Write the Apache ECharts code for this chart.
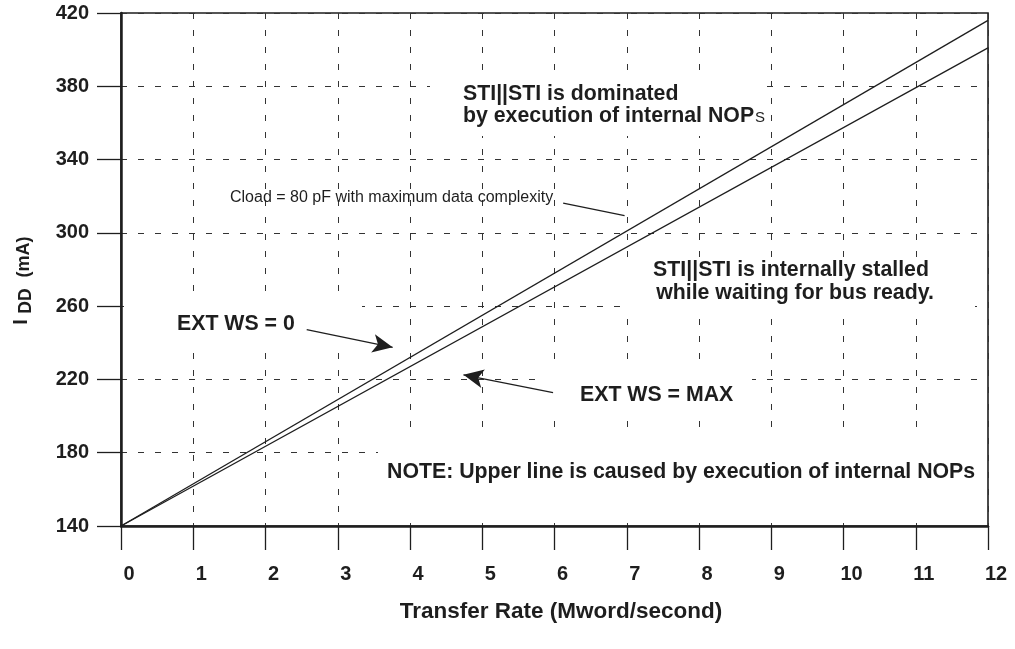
<!DOCTYPE html>
<html>
<head>
<meta charset="utf-8">
<script src="https://cdn.jsdelivr.net/npm/echarts@6/dist/echarts.min.js"></script>
<style>
  html, body { margin: 0; padding: 0; background: #fff; }
  #chart { width: 1015px; height: 649px; }
</style>
</head>
<body>
<div id="chart"></div>
<script>
// Supply current versus transfer rate
const transferRate = [0, 12];              // Mword/second
const iddExtWs0 = [140, 416];              // mA, EXT WS = 0 (upper line)
const iddExtWsMax = [140, 401];            // mA, EXT WS = MAX (lower line)
const xTicks = [0, 1, 2, 3, 4, 5, 6, 7, 8, 9, 10, 11, 12];
const yTicks = [140, 180, 220, 260, 300, 340, 380, 420];

const FONT = 'Liberation Sans, Arial, Helvetica, sans-serif';
const INK = '#1e1e1e';
const NOTE_SIZE = 21.3;

const pairs = (xs, ys) => xs.map((x, i) => [x, ys[i]]);

const chart = echarts.init(document.getElementById('chart'), null, { renderer: 'canvas' });

// white plates behind the notes, hiding the dashed grid there
function plate(x, y, w, h) {
  return { type: 'rect', z: 1, silent: true, shape: { x, y, width: w, height: h }, style: { fill: '#fff' } };
}
function note(text, x, y, size, weight, align) {
  return {
    type: 'text', z: 10, silent: true, x, y,
    style: {
      text, fill: INK, font: `${weight} ${size}px ${FONT}`,
      fontFamily: FONT, fontSize: size, fontWeight: weight,
      align: align || 'left', textAlign: align || 'left',
      verticalAlign: 'middle', textVerticalAlign: 'middle'
    }
  };
}
function vnote(text, x, y, size) {
  const t = note(text, x, y, size, 'bold', 'center');
  t.rotation = Math.PI / 2;
  return t;
}

const arrowStyle = { color: INK, width: 1.3, type: 'solid' };

chart.setOption({
  animation: false,
  backgroundColor: '#fff',
  grid: {
    left: 121, right: 27, top: 13, bottom: 123,
    show: true, borderColor: INK, borderWidth: 1.6, backgroundColor: 'transparent'
  },
  xAxis: {
    type: 'value', min: xTicks[0], max: xTicks[xTicks.length - 1], interval: 1,
    name: 'Transfer Rate (Mword/second)',
    nameLocation: 'middle', nameGap: 74,
    nameTextStyle: { fontFamily: FONT, fontWeight: 'bold', fontSize: 22.5, color: INK, padding: [0, 0, 0, 13] },
    axisLine: { show: true, onZero: false, lineStyle: { color: INK, width: 2.5 } },
    axisTick: { show: true, inside: false, length: 24, lineStyle: { color: INK, width: 1.3 } },
    axisLabel: {
      margin: 38, fontFamily: FONT, fontWeight: 'bold', fontSize: 20, color: INK,
      padding: [0, 0, 0, 16],
      formatter: v => (xTicks.includes(v) ? String(v) : '')
    },
    splitLine: { show: true, lineStyle: { color: '#333', width: 1, type: [6, 11] } }
  },
  yAxis: {
    type: 'value', min: yTicks[0], max: yTicks[yTicks.length - 1], interval: 40,
    axisLine: { show: true, onZero: false, lineStyle: { color: INK, width: 2.5 } },
    axisTick: { show: true, inside: false, length: 24, lineStyle: { color: INK, width: 1.3 } },
    axisLabel: {
      margin: 32, fontFamily: FONT, fontWeight: 'bold', fontSize: 20, color: INK,
      padding: [12, 0, 0, 0],
      formatter: v => (yTicks.includes(v) ? String(v) : '')
    },
    splitLine: { show: true, lineStyle: { color: '#333', width: 1, type: [6, 11] } }
  },
  series: [
    {
      name: 'EXT WS = 0', type: 'line', z: 3,
      data: pairs(transferRate, iddExtWs0),
      showSymbol: false, symbol: 'none',
      lineStyle: { color: INK, width: 1.3 },
      markLine: {
        silent: true, symbol: ['none', 'arrow'], symbolSize: [14, 20],
        label: { show: false }, lineStyle: arrowStyle,
        data: [
          [{ coord: [2.57, 247.2] }, { coord: [3.76, 237.5] }],
          [{ coord: [5.98, 212.8] }, { coord: [4.74, 222.5] }],
          [{ coord: [6.12, 316.2], symbol: 'none' }, { coord: [6.97, 309.4], symbol: 'none' }]
        ]
      }
    },
    {
      name: 'EXT WS = MAX', type: 'line', z: 3,
      data: pairs(transferRate, iddExtWsMax),
      showSymbol: false, symbol: 'none',
      lineStyle: { color: INK, width: 1.3 }
    }
  ],
  graphic: [
    plate(430, 72, 330, 64),
    plate(627, 259, 348, 55),
    plate(124, 300, 238, 52),
    plate(536, 370, 216, 48),
    plate(378, 435, 607, 82),

    note('STI||STI is dominated', 463, 94, NOTE_SIZE, 'bold'),
    {
      type: 'text', z: 10, silent: true, x: 463, y: 116,
      style: {
        text: '{b|by execution of internal NOP}{s|S}',
        verticalAlign: 'middle', textVerticalAlign: 'middle',
        rich: {
          b: { fontFamily: FONT, fontWeight: 'bold', fontSize: NOTE_SIZE, fill: INK, color: INK },
          s: { fontFamily: FONT, fontWeight: 'normal', fontSize: 15, fill: INK, color: INK, padding: [4, 0, 0, 1] }
        }
      }
    },
    note('STI||STI is internally stalled', 791, 270, NOTE_SIZE, 'bold', 'center'),
    note('while waiting for bus ready.', 795, 293, NOTE_SIZE, 'bold', 'center'),
    note('Cload = 80 pF with maximum data complexity', 230, 198, 16, 'normal'),
    note('EXT WS = 0', 177, 324, NOTE_SIZE, 'bold'),
    note('EXT WS = MAX', 580, 395, NOTE_SIZE, 'bold'),
    note('NOTE: Upper line is caused by execution of internal NOPs', 387, 472, NOTE_SIZE, 'bold'),

    vnote('I', 21, 322, 20),
    vnote('DD', 26, 301, 17.5),
    vnote('(mA)', 24, 257, 18)
  ]
});
</script>
</body>
</html>
